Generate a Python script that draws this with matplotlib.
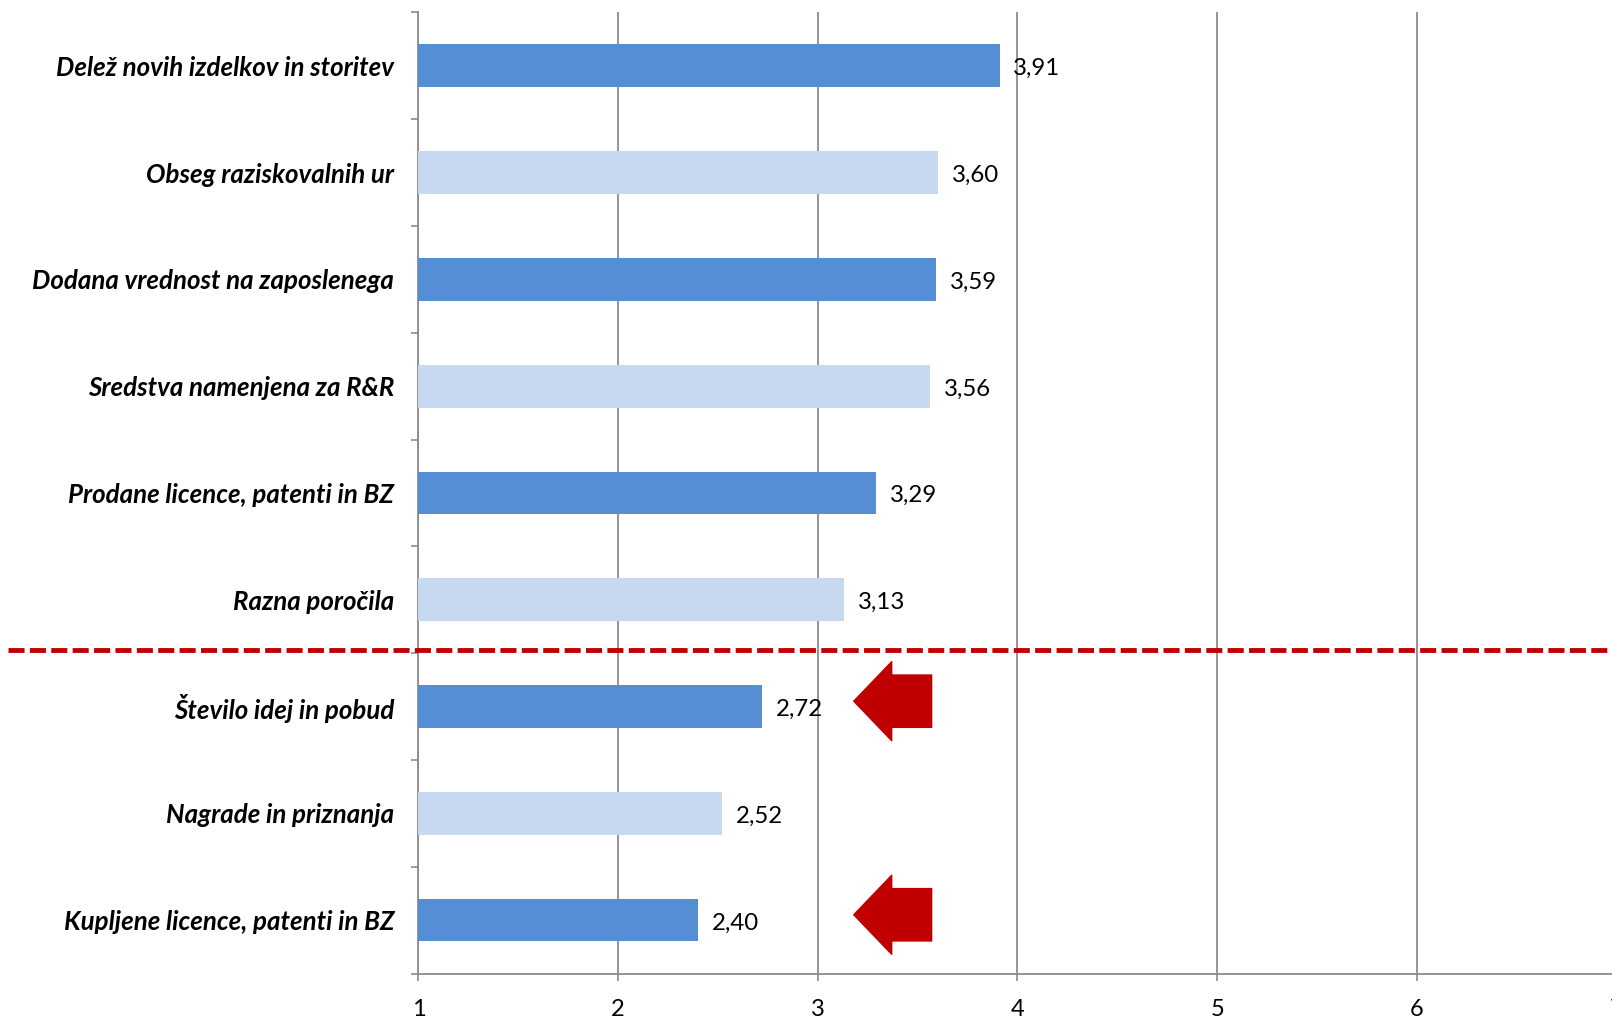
import matplotlib
matplotlib.use("Agg")
import matplotlib.pyplot as plt
from matplotlib.patches import Polygon

# Data (top to bottom, as shown)
categories = [
    "Delež novih izdelkov in storitev",
    "Obseg raziskovalnih ur",
    "Dodana vrednost na zaposlenega",
    "Sredstva namenjena za R&R",
    "Prodane licence, patenti in BZ",
    "Razna poročila",
    "Število idej in pobud",
    "Nagrade in priznanja",
    "Kupljene licence, patenti in BZ",
]
values = [3.91, 3.60, 3.59, 3.56, 3.29, 3.13, 2.72, 2.52, 2.40]
x_ticks = [1, 2, 3, 4, 5, 6, 7]
arrow_rows = [6, 8]  # categories marked with a red arrow

DARK = "#558ED5"
LIGHT = "#C6D9F1"
RED = "#C00000"
GRID = "#8C8C8C"
FONT = "Lato"

W, H = 1612, 1019
fig = plt.figure(figsize=(W / 100, H / 100), dpi=100)
# axes reaches slightly past the right edge, like the cropped original
ax = fig.add_axes([418.4 / W, 45.5 / H, 1198.2 / W, 961.1 / H])

ypos = list(range(len(categories)))
colors = [DARK if i % 2 == 0 else LIGHT for i in ypos]
ax.barh(ypos, [v - 1 for v in values], left=1, height=0.4, color=colors, zorder=3)

ax.set_xlim(1, 7)
ax.set_ylim(len(categories) - 0.5, -0.5)

ax.set_xticks(x_ticks)
ax.set_xticklabels([str(t) for t in x_ticks], fontsize=17, family=FONT)
ax.set_yticks(ypos)
ax.set_yticklabels(categories, fontsize=18.6, family=FONT,
                   fontweight="bold", fontstyle="italic")
ax.tick_params(axis="y", length=0, pad=17.5)
ax.tick_params(axis="x", length=5, width=1.2, color=GRID, pad=13, direction="out")

# y tick marks between categories
ax.set_yticks([i - 0.5 for i in range(len(categories) + 1)], minor=True)
ax.tick_params(axis="y", which="minor", length=5, width=1.2, color=GRID)

ax.grid(axis="x", color=GRID, linewidth=1.3, zorder=0)
for s in ["top", "right"]:
    ax.spines[s].set_visible(False)
for s in ["left", "bottom"]:
    ax.spines[s].set_color(GRID)
    ax.spines[s].set_linewidth(1.3)

for i, v in enumerate(values):
    ax.annotate(f"{v:.2f}".replace(".", ","), (v, i), xytext=(10, -2),
                textcoords="offset points", va="center", ha="left",
                fontsize=17.3, family=FONT, zorder=4)

# red dashed separator
ax.axhline(5.47, xmin=-(418 - 8) / 1198.2, xmax=1.01, color=RED, linewidth=3.5,
           linestyle=(0, (3.3, 1.1)), clip_on=False, zorder=5)

# red left-pointing arrows
for r in arrow_rows:
    yc = r - 0.05
    x0, xh, x1 = 3.18, 3.37, 3.57
    hh, sh = 0.37, 0.245
    pts = [(x0, yc), (xh, yc - hh), (xh, yc - sh), (x1, yc - sh),
           (x1, yc + sh), (xh, yc + sh), (xh, yc + hh)]
    ax.add_patch(Polygon(pts, closed=True, facecolor=RED, edgecolor=RED,
                         linewidth=1, joinstyle="round", zorder=5))

fig.savefig("out.png", dpi=100)
